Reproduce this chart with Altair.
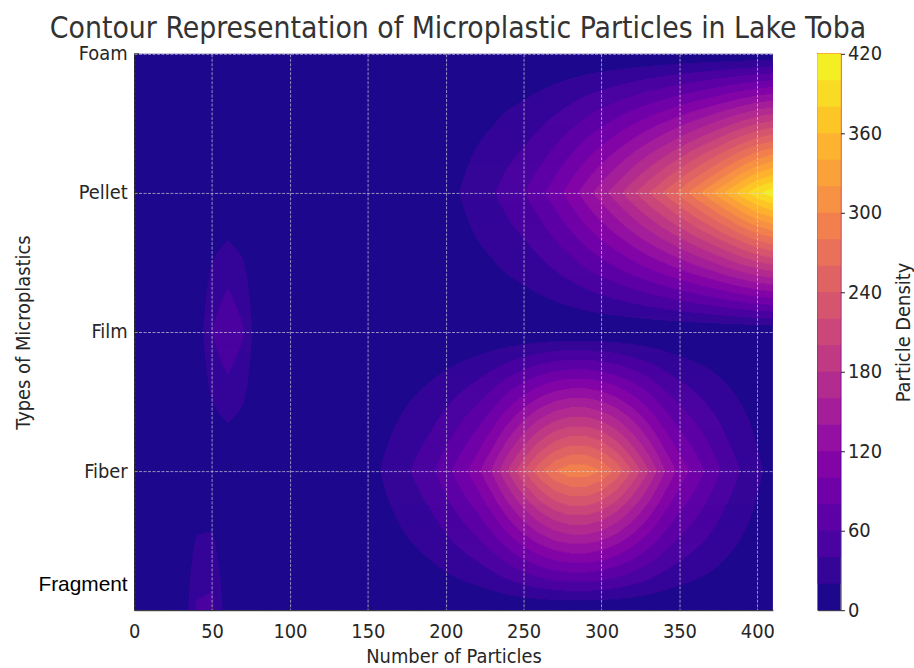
import json
import numpy as np
import pandas as pd
import altair as alt

# ---------------- data ----------------
types = ["Fragment", "Fiber", "Film", "Pellet", "Foam"]          # y rows 0..4
counts = list(range(0, 411, 10))                                  # number of particles (x knots)

fragment = [0, 0, 0, 0, 43, 46, 8] + [0] * 35
film     = [0, 0, 0, 0, 5, 40, 58, 42, 4] + [0] * 33
fiber    = [0] * 13 + [1, 4, 12, 22, 32, 43, 55, 72, 92, 113, 143, 181, 218, 253,
                       279, 293, 293, 279, 253, 218, 181, 143, 113, 92, 72, 53, 38, 24, 13]
pellet   = [0] * 18 + [3, 8, 14, 21, 30, 38, 49, 59, 73, 90, 109, 130, 151, 172, 195,
                       218, 241, 265, 290, 315, 342, 370, 395, 412]
foam     = [0] * 42

x_ticks = [0, 50, 100, 150, 200, 250, 300, 350, 400]
cbar_ticks = [0, 60, 120, 180, 240, 300, 360, 420]
level_step = 20
level_max = 420
x_max = 410

FONT = "DejaVu Sans Condensed, DejaVu Sans"

# ---------------- filled-contour table (nested super-level bands) ----------------
Z = np.array([fragment, fiber, film, pellet, foam], dtype=float)
cx = np.array(counts, dtype=float)
dxs = 0.25
xs = np.arange(0, x_max + 1e-9, dxs)
rows = np.array([np.interp(xs, cx, Z[i]) for i in range(len(types))])
y_top = len(types) - 1

n_rows = 560
dy = y_top / n_rows
n_levels = level_max // level_step
recs = [{"lvl": 0, "x": 0.0, "x2": float(x_max), "y": 0.0, "y2": float(y_top),
         "mid": level_step / 2}]
for j in range(n_rows):
    yc = (j + 0.5) * dy
    i0 = min(int(np.floor(yc)), y_top - 1)
    t = yc - i0
    z = (1 - t) * rows[i0] + t * rows[i0 + 1]
    band = np.clip(np.floor(z / level_step), 0, n_levels - 1).astype(int)
    y0 = round(j * dy, 5)
    y1 = round(min((j + 1.6) * dy, y_top), 5)
    for k in range(1, int(band.max()) + 1):
        m = np.concatenate([[0], (band >= k).astype(int), [0]])
        d = np.diff(m)
        st = np.nonzero(d == 1)[0]
        en = np.nonzero(d == -1)[0] - 1
        for s, e in zip(st, en):
            x0 = max(xs[s] - dxs / 2, 0)
            x1 = min(xs[e] + dxs / 2, x_max)
            recs.append({"lvl": k, "x": round(float(x0), 2), "x2": round(float(x1), 2),
                         "y": y0, "y2": y1, "mid": k * level_step + level_step / 2})
field = pd.DataFrame(recs).sort_values(["lvl", "y"], kind="stable").reset_index(drop=True)

color_scale = alt.Scale(scheme="plasma", domain=[0, level_max])

label_expr = "%s[datum.value]" % json.dumps(types)

rects = alt.Chart(field).mark_rect().encode(
    x=alt.X("x:Q", scale=alt.Scale(domain=[0, x_max], nice=False, zero=False),
            axis=alt.Axis(values=x_ticks, title="Number of Particles", grid=True,
                          ticks=False, labelPadding=11, labelFlush=False, titlePadding=6,
                          domainColor="#222", zindex=1)),
    x2="x2:Q",
    y=alt.Y("y:Q", scale=alt.Scale(domain=[0, y_top], nice=False, zero=False),
            axis=alt.Axis(values=list(range(len(types))), labelExpr=label_expr,
                          title="Types of Microplastics", grid=True, ticks=False,
                          labelPadding=7, labelFlush=False, domainColor="#222", zindex=1,
                          labelFont={"condition": {"test": "datum.value == 0", "value": "Liberation Sans"}, "value": FONT},
                          labelColor={"condition": {"test": "datum.value == 0", "value": "#000000"}, "value": "#262626"},
                          labelFontSize={"condition": {"test": "datum.value == 0", "value": 21}, "value": 20},
                          labelOffset={"condition": {"test": "datum.value == 0", "value": -26}, "value": 0})),
    y2="y2:Q",
    color=alt.Color("mid:Q", scale=color_scale, legend=None),
    order=alt.Order("lvl:Q"),
)

xt = alt.Chart(pd.DataFrame({"v": x_ticks[1:]})).mark_rule(color="#222", strokeWidth=1).encode(
    x="v:Q", y=alt.value(560), y2=alt.value(555))
yt = alt.Chart(pd.DataFrame({"v": list(range(1, len(types)))})).mark_rule(color="#222", strokeWidth=1).encode(
    y="v:Q", x=alt.value(0), x2=alt.value(5))

main = alt.layer(rects, xt, yt).properties(width=643, height=560)

lo = list(range(0, level_max, level_step))
cbar_df = pd.DataFrame({"lo": lo, "top": [level_max] * len(lo),
                        "mid": [v + level_step / 2 for v in lo]})
cbar = alt.Chart(cbar_df).mark_rect().encode(
    y=alt.Y("lo:Q", scale=alt.Scale(domain=[0, level_max], nice=False, zero=False),
            axis=alt.Axis(orient="right", values=cbar_ticks, title="Particle Density",
                          titleAngle=270, titleBaseline="top", titlePadding=12,
                          tickSize=4, labelPadding=3, grid=False,
                          domain=False, tickColor="#222")),
    y2="top:Q",
    x=alt.value(0), x2=alt.value(23),
    color=alt.Color("mid:Q", scale=color_scale, legend=None),
    order=alt.Order("lo:Q"),
).properties(width=23, height=560, view=alt.ViewBackground(stroke="#222", strokeWidth=1))

chart = alt.hconcat(main, cbar, spacing=42).properties(
    title=alt.TitleParams("Contour Representation of Microplastic Particles in Lake Toba",
                          font=FONT, fontSize=30, fontWeight="normal", color="#333333",
                          anchor="middle", offset=-1, dx=-6),
    padding={"left": 14, "top": 12, "right": 0, "bottom": 0},
    background="white",
).configure_view(stroke=None).configure_axis(
    labelFont=FONT, labelFontSize=20, labelColor="#262626",
    titleFont=FONT, titleFontSize=20, titleColor="#262626", titleFontWeight="normal",
    gridColor="#dcdcdc", gridOpacity=0.65, gridDash=[3, 1.5], gridWidth=1,
)

chart.save("out.html", embed_options={"renderer": "svg", "actions": False})
